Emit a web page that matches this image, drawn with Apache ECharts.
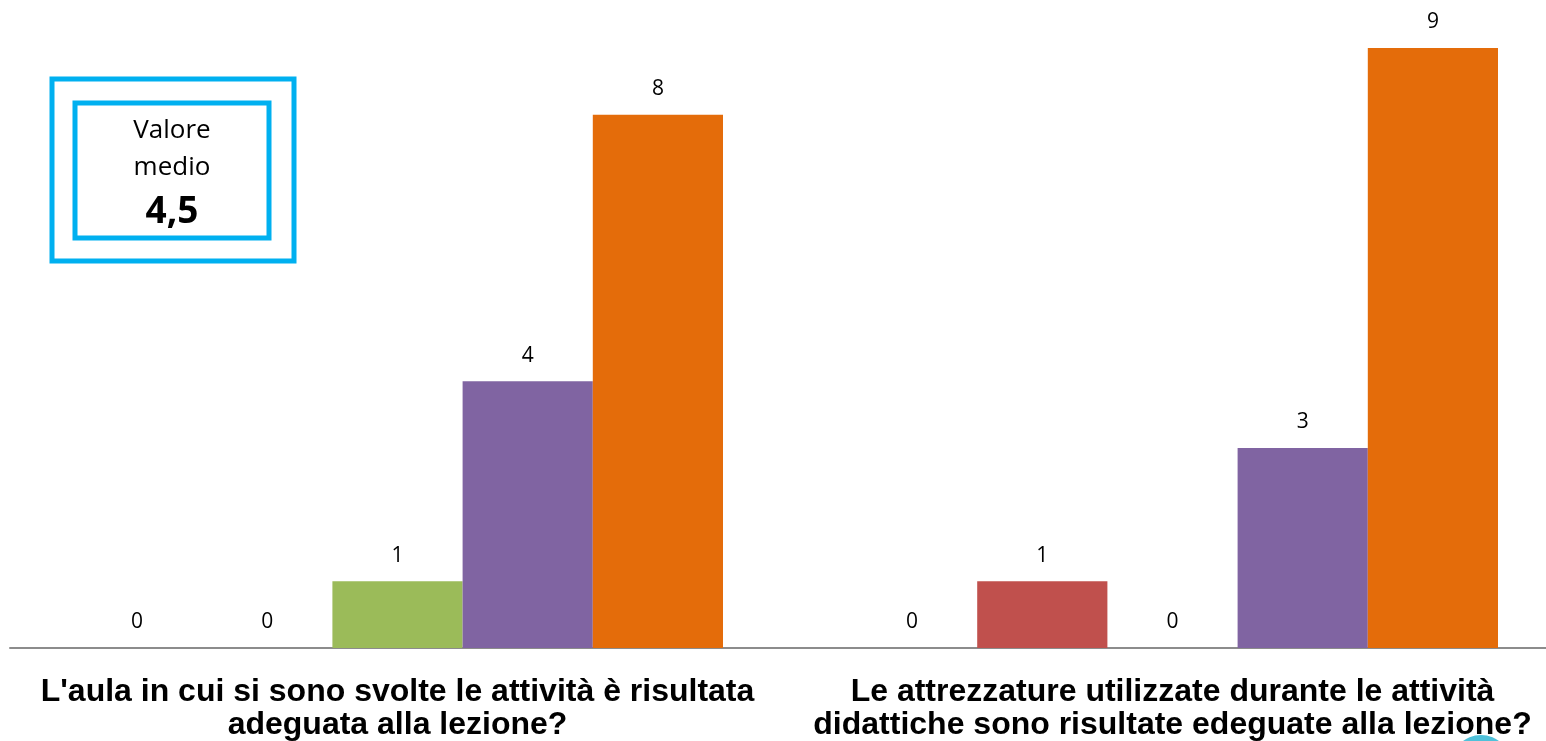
<!DOCTYPE html>
<html>
<head>
<meta charset="utf-8">
<script src="https://cdn.jsdelivr.net/npm/echarts@6/dist/echarts.min.js"></script>
<style>
html,body{margin:0;padding:0;background:#fff;}
#chart{width:1546px;height:741px;}
</style>
</head>
<body>
<div id="chart"></div>
<script>
// domande
var categories = [
    "L'aula in cui si sono svolte le attività è risultata\nadeguata alla lezione?",
    "Le attrezzature utilizzate durante le attività\ndidattiche sono risultate edeguate alla lezione?"
];
// punteggi 1..5
var seriesNames = ['1', '2', '3', '4', '5'];
var voto1 = [0, 0];
var voto2 = [0, 1];
var voto3 = [1, 0];
var voto4 = [4, 3];
var voto5 = [8, 9];
var colori = ['#4F81BD', '#C0504D', '#9BBB59', '#8064A2', '#E46C0A'];
var valoreMedio = '4,5';

var chart = echarts.init(document.getElementById('chart'));
var valori = [voto1, voto2, voto3, voto4, voto5];
var series = [];
for (var i = 0; i < valori.length; i++) {
    series.push({
        name: seriesNames[i],
        type: 'bar',
        data: valori[i],
        barGap: 0,
        barCategoryGap: '16%',
        itemStyle: { color: colori[i] },
        label: {
            show: true,
            position: 'top',
            distance: 15,
            color: '#000',
            fontSize: 21,
            fontFamily: 'Open Sans'
        }
    });
}
var option = {
    animation: false,
    grid: { left: 10, top: 48, width: 1550, bottom: 93, outerBoundsMode: 'none' },
    xAxis: {
        type: 'category',
        data: categories,
        axisTick: { show: false },
        axisLine: { lineStyle: { color: '#8c8c8c', width: 2 } },
        axisLabel: {
            interval: 0,
            showMinLabel: true,
            showMaxLabel: true,
            hideOverlap: false,
            margin: 28,
            color: '#000',
            fontSize: 32,
            fontWeight: 'bold',
            fontFamily: 'Liberation Sans',
            lineHeight: 33
        }
    },
    yAxis: {
        type: 'value',
        min: 0,
        max: 9,
        show: false,
        splitLine: { show: false }
    },
    graphic: [
        { type: 'rect', shape: { x: 52, y: 79, width: 242, height: 182 }, style: { fill: 'none', stroke: '#00B0F0', lineWidth: 5 } },
        { type: 'rect', shape: { x: 75, y: 103, width: 194, height: 135 }, style: { fill: '#fff', stroke: '#00B0F0', lineWidth: 5 } },
        { type: 'text', x: 172, y: 131, style: { text: 'Valore', fill: '#000', font: '26px "Open Sans"', textAlign: 'center', textVerticalAlign: 'middle' } },
        { type: 'text', x: 172, y: 168, style: { text: 'medio', fill: '#000', font: '26px "Open Sans"', textAlign: 'center', textVerticalAlign: 'middle' } },
        { type: 'text', x: 172, y: 212, style: { text: valoreMedio, fill: '#000', font: 'bold 37px "Open Sans"', textAlign: 'center', textVerticalAlign: 'middle' } },
        { type: 'circle', z: -1, shape: { cx: 1481, cy: 765, r: 30 }, style: { fill: '#4FC1DA' } }
    ],
    series: series
};
chart.setOption(option);
</script>
</body>
</html>
